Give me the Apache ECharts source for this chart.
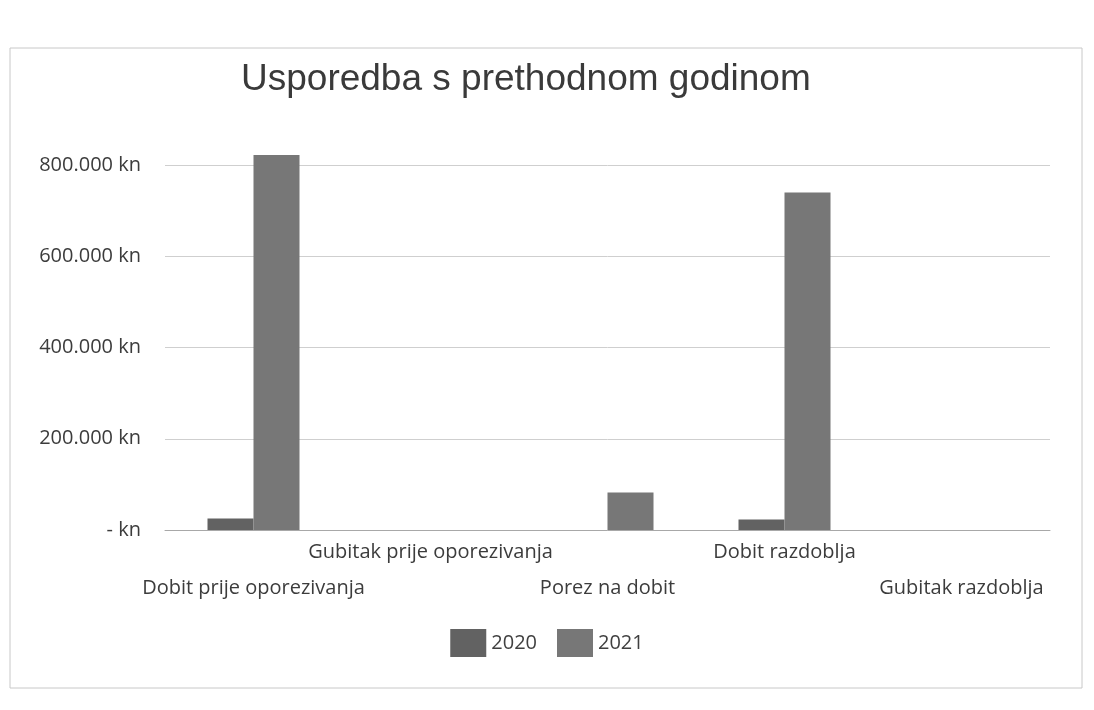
<!DOCTYPE html>
<html>
<head>
<meta charset="utf-8">
<script src="https://cdn.jsdelivr.net/npm/echarts@6/dist/echarts.min.js"></script>
<style>
  html, body { margin: 0; padding: 0; background: #ffffff; }
  #chart { width: 1094px; height: 710px; }
</style>
</head>
<body>
<div id="chart"></div>
<script>
const categories = ['Dobit prije oporezivanja', 'Gubitak prije oporezivanja', 'Porez na dobit', 'Dobit razdoblja', 'Gubitak razdoblja'];
const seriesNames = ['2020', '2021'];
const values2020 = [25000, 0, 0, 23000, 0];
const values2021 = [822000, 0, 82000, 740000, 0];
const yTicks = [0, 200000, 400000, 600000, 800000];

function fmtKn(v) {
  if (v === 0) return '- kn';
  return String(v).replace(/\B(?=(\d{3})+(?!\d))/g, '.') + ' kn';
}

const chart = echarts.init(document.getElementById('chart'));
chart.setOption({
  backgroundColor: '#ffffff',
  animation: false,
  graphic: [{
    type: 'rect',
    shape: { x: 10, y: 48, width: 1072, height: 640 },
    style: { fill: 'none', stroke: '#c8c8c8', lineWidth: 1 },
    silent: true
  }],
  title: {
    text: 'Usporedba s prethodnom godinom',
    left: 236,
    top: 56,
    textStyle: { fontFamily: 'Liberation Sans', fontSize: 37, fontWeight: 'normal', color: '#3a3a3a' }
  },
  legend: {
    data: seriesNames,
    left: 'center',
    top: 624,
    itemWidth: 36,
    itemHeight: 28,
    itemGap: 20,
    icon: 'rect',
    textStyle: { fontFamily: 'Open Sans', fontSize: 20, color: '#404040' }
  },
  grid: { left: 165, right: 44, top: 165, bottom: 180, containLabel: false },
  xAxis: {
    type: 'category',
    data: categories,
    axisLine: { show: true, lineStyle: { color: '#a8a8a8', width: 1 } },
    axisTick: { show: false },
    axisLabel: {
      interval: 0,
      margin: 4,
      fontFamily: 'Open Sans',
      fontSize: 20,
      color: '#3c3c3c',
      lineHeight: 36,
      formatter: function (v, i) { return i % 2 === 0 ? ' \n' + v : v + '\n '; }
    }
  },
  yAxis: {
    type: 'value',
    min: yTicks[0],
    max: yTicks[yTicks.length - 1],
    interval: yTicks[1] - yTicks[0],
    axisLine: { show: false },
    axisTick: { show: false },
    splitLine: { lineStyle: { color: '#cfcfcf', width: 1 } },
    axisLabel: {
      margin: 24,
      fontFamily: 'Open Sans',
      fontSize: 20,
      color: '#3c3c3c',
      formatter: fmtKn
    }
  },
  series: [
    { name: seriesNames[0], type: 'bar', data: values2020, barWidth: 46, barGap: '0%', clip: false, itemStyle: { color: '#626262' } },
    { name: seriesNames[1], type: 'bar', data: values2021, barWidth: 46, barGap: '0%', clip: false, itemStyle: { color: '#777777' } }
  ]
});
</script>
</body>
</html>
